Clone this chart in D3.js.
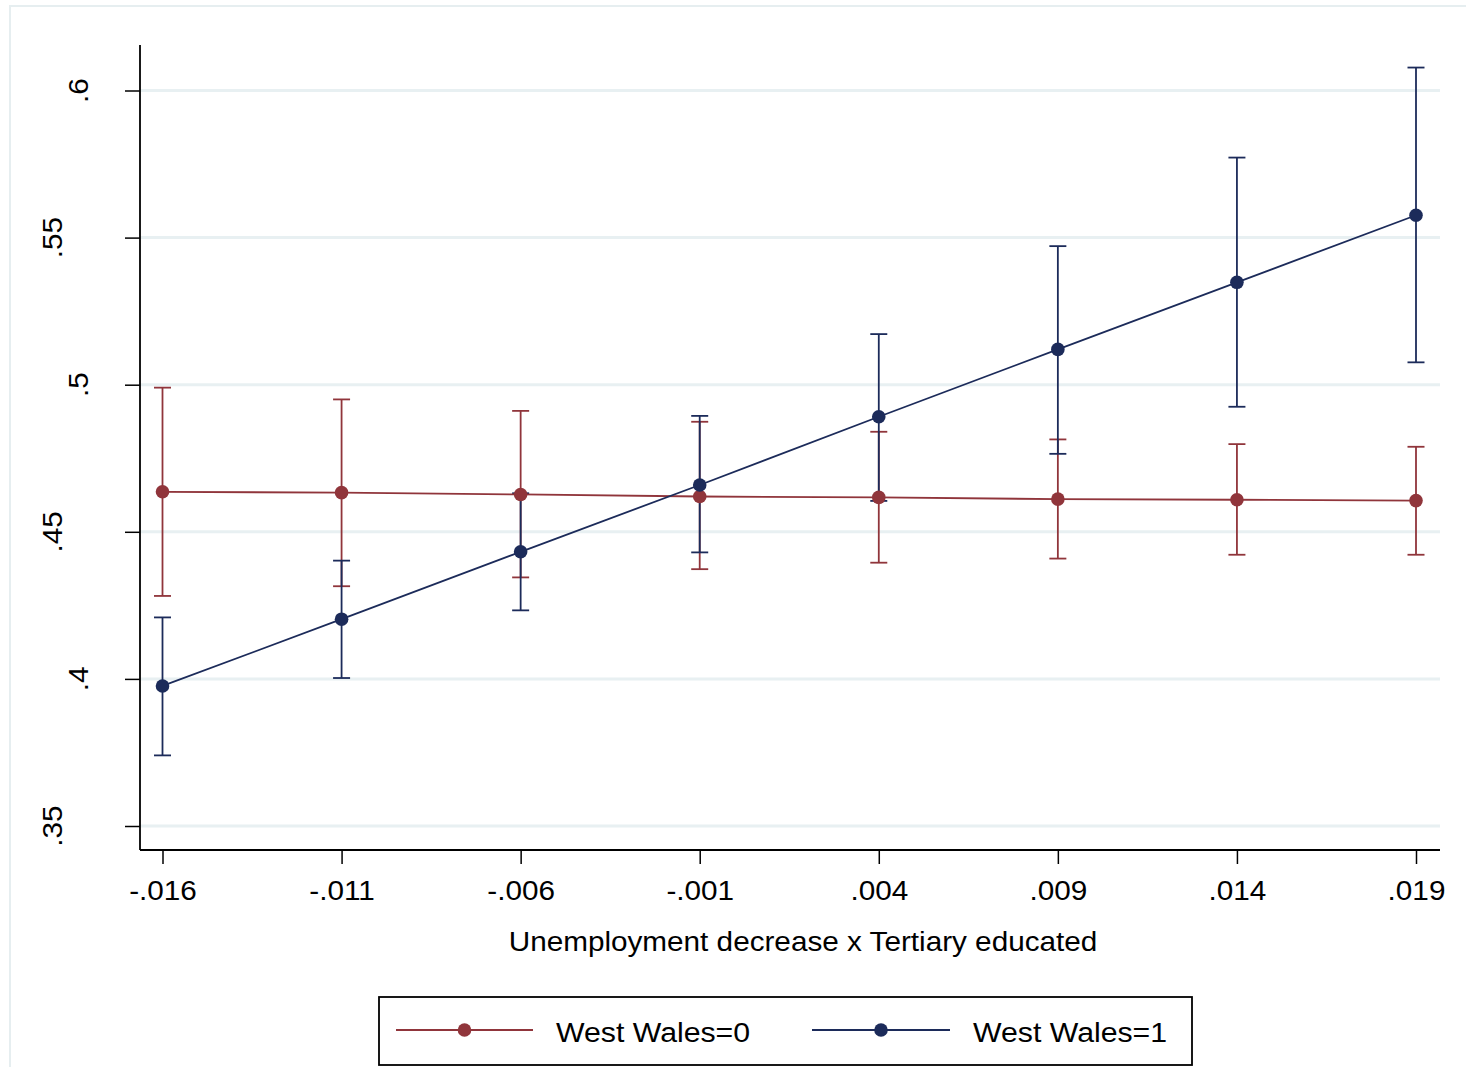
<!DOCTYPE html>
<html>
<head>
<meta charset="utf-8">
<script src="https://cdn.jsdelivr.net/npm/d3@7"></script>
<style>
  body { margin: 0; background: #fff; }
  svg { display: block; }
  text { font-family: "Liberation Sans", Arial, Helvetica, sans-serif; fill: #000; }
</style>
</head>
<body>
<svg id="chart" width="1466" height="1067"></svg>
<script>
// Predictive margins by interaction value
const xValues = [-0.016, -0.011, -0.006, -0.001, 0.004, 0.009, 0.014, 0.019];
const xTickLabels = ["-.016", "-.011", "-.006", "-.001", ".004", ".009", ".014", ".019"];
const yTicks = [0.35, 0.4, 0.45, 0.5, 0.55, 0.6];
const yTickLabels = [".35", ".4", ".45", ".5", ".55", ".6"];
const groupNames = ["West Wales=0", "West Wales=1"];

// West Wales = 0: margin and 95% CI
const margin0 = [0.4636, 0.4633, 0.4627, 0.4620, 0.4617, 0.4611, 0.4609, 0.4606];
const lower0  = [0.4282, 0.4315, 0.4345, 0.4373, 0.4395, 0.4409, 0.4422, 0.4422];
const upper0  = [0.4990, 0.4950, 0.4911, 0.4874, 0.4840, 0.4814, 0.4798, 0.4789];

// West Wales = 1: margin and 95% CI
const margin1 = [0.3976, 0.4203, 0.4432, 0.4659, 0.4891, 0.5120, 0.5348, 0.5576];
const lower1  = [0.3740, 0.4003, 0.4233, 0.4430, 0.4605, 0.4765, 0.4925, 0.5076];
const upper1  = [0.4209, 0.4402, 0.4631, 0.4894, 0.5172, 0.5471, 0.5772, 0.6078];

const colors = ["#90353b", "#1c2b5a"];

const series = [
  { name: groupNames[0], color: colors[0], m: margin0, lo: lower0, hi: upper0 },
  { name: groupNames[1], color: colors[1], m: margin1, lo: lower1, hi: upper1 }
];

const svg = d3.select("#chart");

const x = d3.scaleLinear().domain([-0.016, 0.019]).range([162.5, 1416]);
const y = d3.scaleLinear().domain([0.35, 0.6]).range([826, 90.5]);

const plotLeft = 140, plotRight = 1440, plotTop = 45, plotBottom = 850;
const fontSize = 27.5;

// outer graph region frame
svg.append("path")
  .attr("d", `M10,1067 V6 H1466`)
  .attr("fill", "none")
  .attr("stroke", "#e6eef0")
  .attr("stroke-width", 2);

// horizontal gridlines
svg.append("g").selectAll("line").data(yTicks).join("line")
  .attr("x1", plotLeft).attr("x2", plotRight)
  .attr("y1", d => y(d)).attr("y2", d => y(d))
  .attr("stroke", "#e8f0f2")
  .attr("stroke-width", 3);

// y axis
const yAxis = d3.axisLeft(y).tickValues(yTicks).tickFormat("").tickSize(15).tickSizeOuter(0);
const gy = svg.append("g").attr("transform", `translate(${plotLeft},0)`).call(yAxis);
gy.select(".domain").remove();
gy.selectAll(".tick line").attr("stroke", "#000").attr("stroke-width", 1.5);
svg.append("line")
  .attr("x1", plotLeft).attr("x2", plotLeft)
  .attr("y1", plotTop).attr("y2", plotBottom)
  .attr("stroke", "#000").attr("stroke-width", 1.8);

// rotated y tick labels
svg.append("g").selectAll("text").data(yTicks).join("text")
  .attr("transform", (d, i) => {
    const bx = 88 - (yTickLabels[i].length - 2) * 26;
    return `translate(${bx},${y(d)}) rotate(-90) scale(1.08,1)`;
  })
  .attr("text-anchor", "middle")
  .attr("font-size", fontSize)
  .text((d, i) => yTickLabels[i]);

// x axis
const xAxis = d3.axisBottom(x).tickValues(xValues)
  .tickFormat((d, i) => xTickLabels[i]).tickSize(14).tickSizeOuter(0).tickPadding(16);
const gx = svg.append("g").attr("transform", `translate(0,${plotBottom})`).call(xAxis);
gx.select(".domain").remove();
gx.selectAll(".tick line").attr("stroke", "#000").attr("stroke-width", 1.5);
gx.selectAll(".tick text")
  .attr("font-size", fontSize).attr("fill", "#000")
  .attr("font-family", "Liberation Sans, Arial, sans-serif")
  .attr("transform", "scale(1.08,1)");
svg.append("line")
  .attr("x1", plotLeft).attr("x2", plotRight)
  .attr("y1", plotBottom).attr("y2", plotBottom)
  .attr("stroke", "#000").attr("stroke-width", 1.8);

// x axis title
svg.append("text")
  .attr("transform", "translate(803,951) scale(1.08,1)")
  .attr("text-anchor", "middle")
  .attr("font-size", fontSize)
  .text("Unemployment decrease x Tertiary educated");

// confidence interval caps
const capHalf = 8.5;
series.forEach(s => {
  const g = svg.append("g").attr("stroke", s.color).attr("stroke-width", 1.8).attr("fill", "none");
  xValues.forEach((xv, i) => {
    const cx = x(xv), y1 = y(s.lo[i]), y2 = y(s.hi[i]);
    g.append("line").attr("x1", cx).attr("x2", cx).attr("y1", y1).attr("y2", y2);
    g.append("line").attr("x1", cx - capHalf).attr("x2", cx + capHalf).attr("y1", y1).attr("y2", y1);
    g.append("line").attr("x1", cx - capHalf).attr("x2", cx + capHalf).attr("y1", y2).attr("y2", y2);
  });
});

// connected margins
const line = d3.line().x((d, i) => x(xValues[i])).y(d => y(d));
series.forEach(s => {
  svg.append("path").datum(s.m)
    .attr("d", line)
    .attr("fill", "none")
    .attr("stroke", s.color)
    .attr("stroke-width", 1.8);
  svg.append("g").selectAll("circle").data(s.m).join("circle")
    .attr("cx", (d, i) => x(xValues[i]))
    .attr("cy", d => y(d))
    .attr("r", 6.8)
    .attr("fill", s.color);
});

// legend
const legend = svg.append("g");
legend.append("rect")
  .attr("x", 379).attr("y", 997).attr("width", 813).attr("height", 68)
  .attr("fill", "#fff").attr("stroke", "#000").attr("stroke-width", 1.8);
const legendItems = [
  { x0: 396, x1: 533, tx: 556 },
  { x0: 812, x1: 950, tx: 973 }
];
series.forEach((s, i) => {
  const it = legendItems[i];
  legend.append("line")
    .attr("x1", it.x0).attr("x2", it.x1).attr("y1", 1030).attr("y2", 1030)
    .attr("stroke", s.color).attr("stroke-width", 1.8);
  legend.append("circle")
    .attr("cx", (it.x0 + it.x1) / 2).attr("cy", 1030).attr("r", 6.8)
    .attr("fill", s.color);
  legend.append("text")
    .attr("transform", `translate(${it.tx},1042) scale(1.1,1)`)
    .attr("font-size", fontSize)
    .text(s.name);
});
</script>
</body>
</html>
